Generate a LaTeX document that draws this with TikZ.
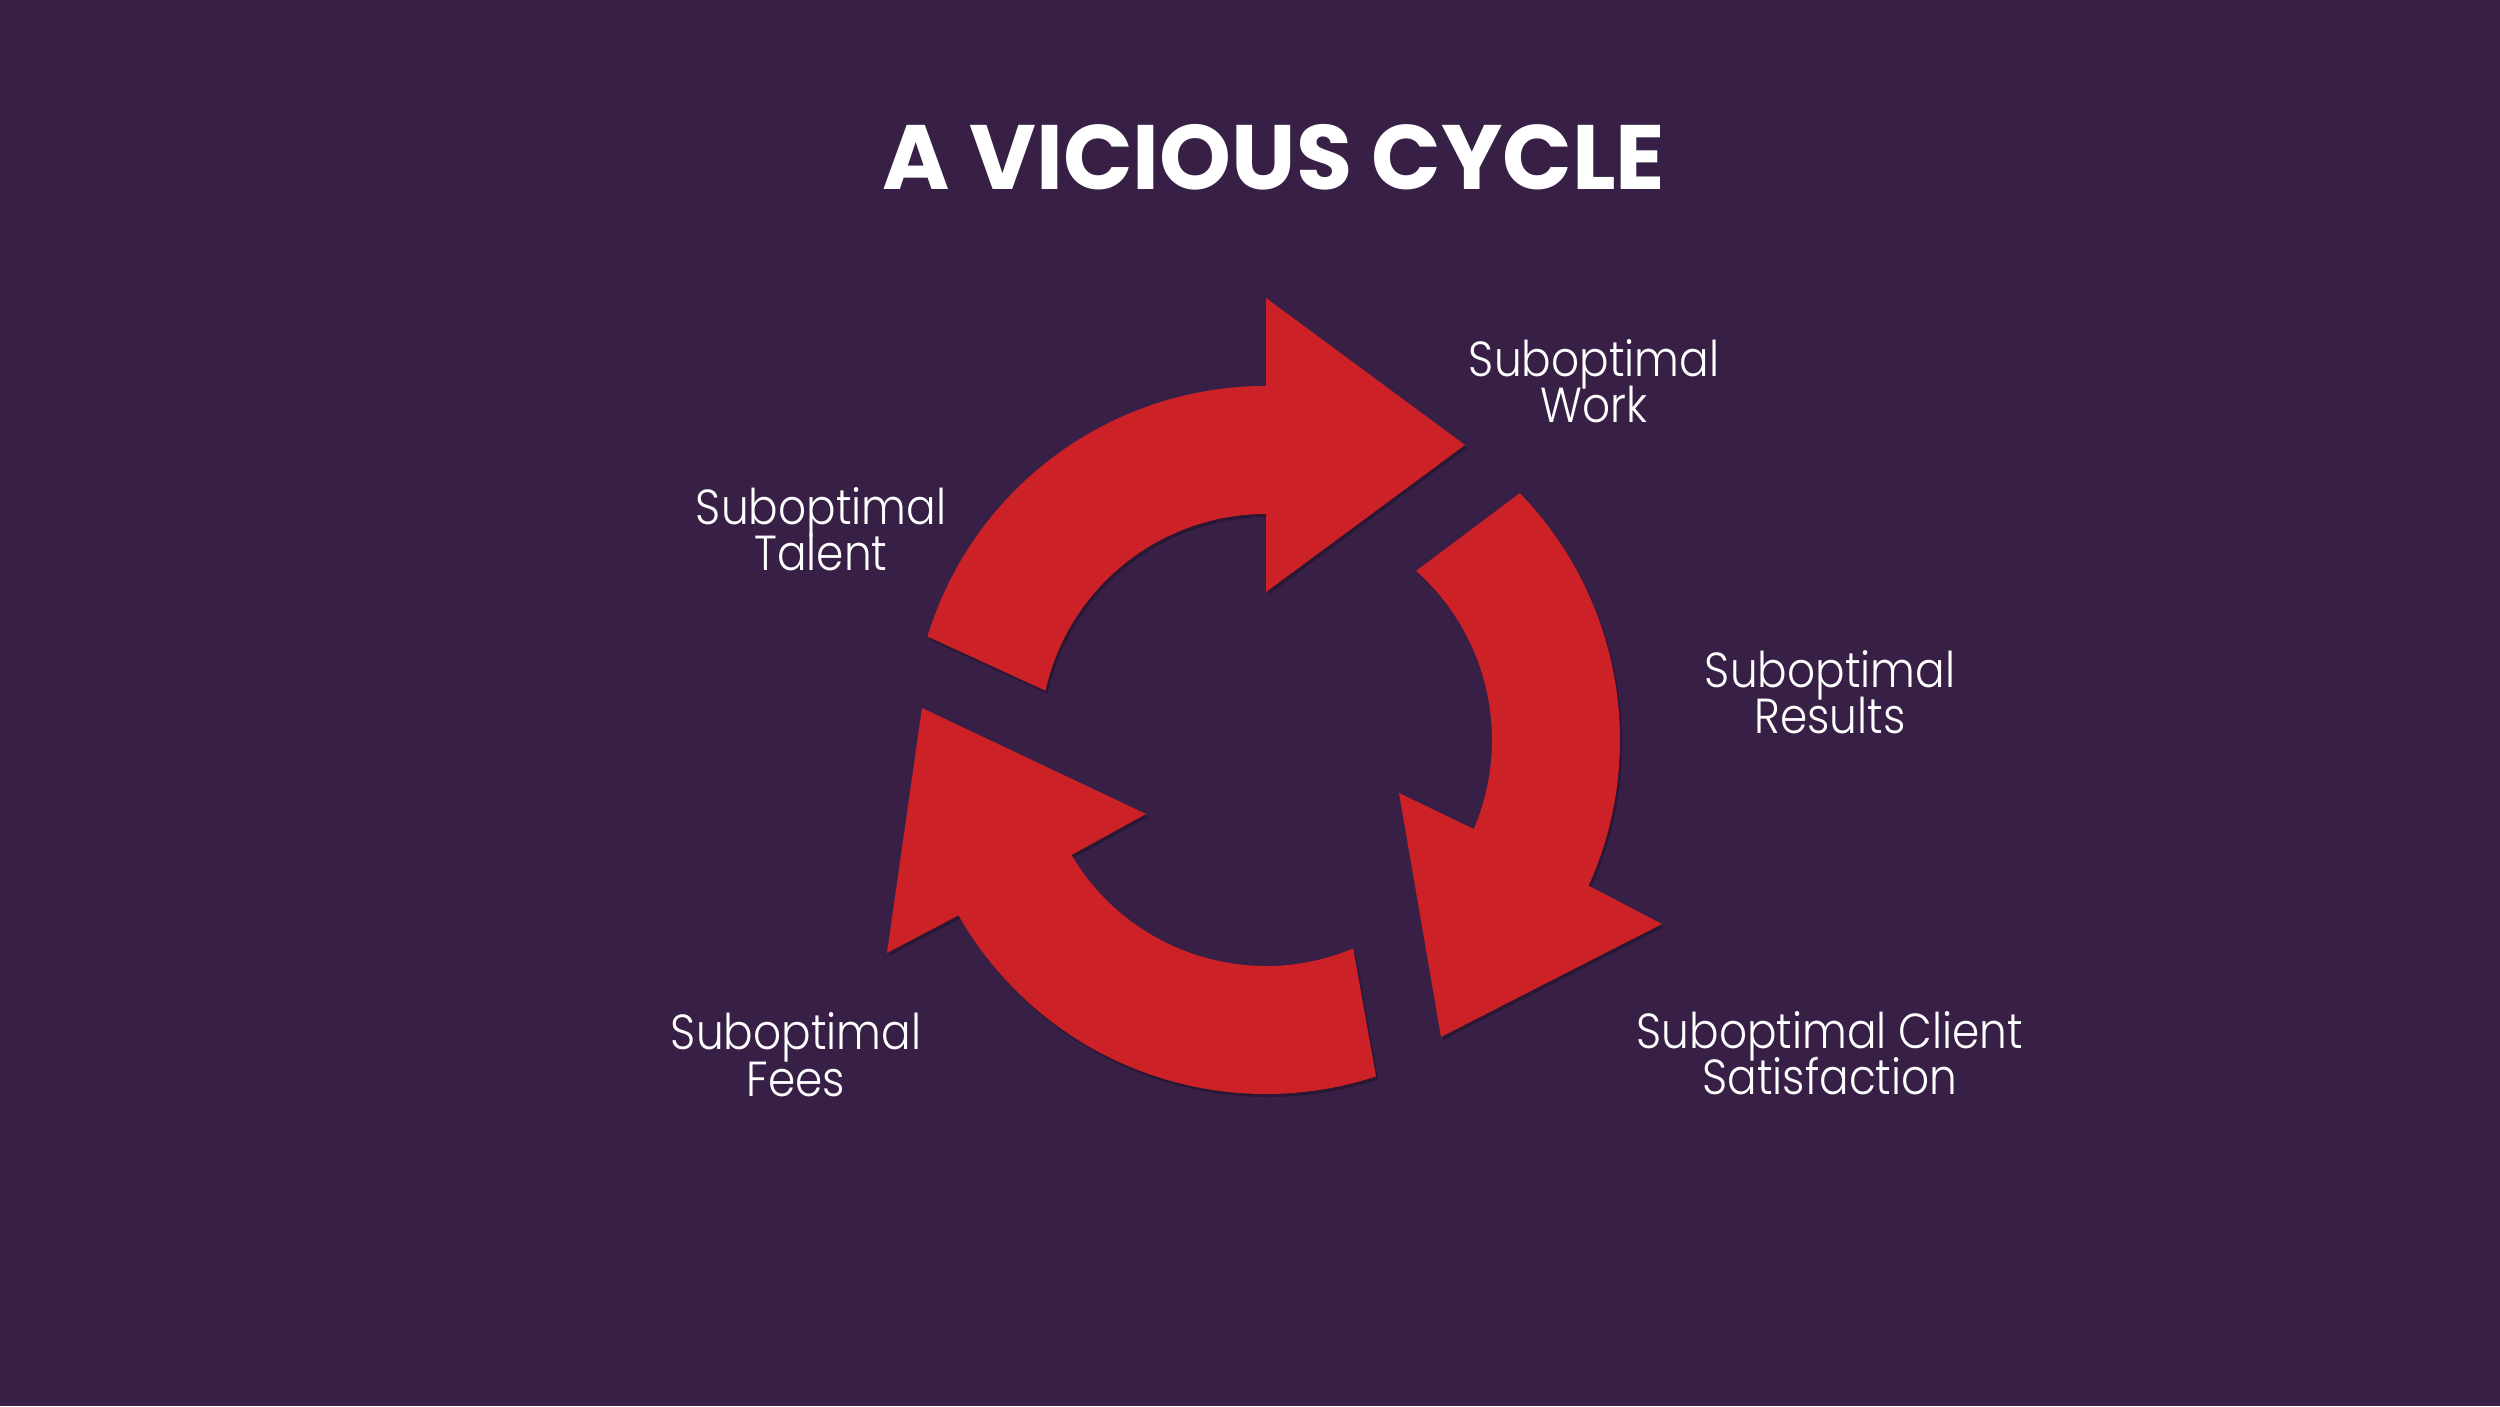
\documentclass[tikz,border=0pt]{standalone}
\usepackage{fontspec}
\IfFontExistsTF{Poppins Light}{\newfontfamily\lblfont{Poppins Light}[FakeStretch=0.89]}{\newfontfamily\lblfont{Poppins}[FakeStretch=0.89]}
\newfontfamily\ttlfont{Poppins}
\definecolor{bgpurple}{RGB}{55,31,69}
\definecolor{arrowred}{RGB}{204,34,39}
\begin{document}
\begin{tikzpicture}[x=0.01cm,y=0.01cm,
  lbl/.style={font={\lblfont\fontsize{14}{13.2}\selectfont\lineskiplimit=-50pt}, text=white, align=center, inner sep=0pt, anchor=base},
  ttl/.style={font=\ttlfont\bfseries\fontsize{26}{30}\selectfont, text=white, inner sep=0pt, anchor=base},
  arrowshape/.style={fill=arrowred, preaction={fill=black, opacity=0.25, transform canvas={shift={(2,-3)}}}}]
\fill[bgpurple] (0,0) rectangle (2500,1406);
\useasboundingbox (0,0) rectangle (2500,1406);
\coordinate (C) at (1266,666);
\begin{scope}[shift={(C)}]
  % top arrow
  \path[arrowshape] (167.4:226) -- (163:354) arc[start angle=163, end angle=90, radius=354]
    -- (90:442) -- (199,295) -- (90:148) -- (90:226)
    arc[start angle=90, end angle=167.4, radius=226] -- cycle;
  % right arrow
  \path[arrowshape] (48.4:226) -- (44.2:354) arc[start angle=44.2, end angle=-24.3, radius=354]
    -- (396,-184) -- (175,-297) -- (133,-53) -- (-23.2:226)
    arc[start angle=-23.2, end angle=48.4, radius=226] -- cycle;
  % bottom arrow
  \path[arrowshape] (-67.3:226) -- (-71.9:354) arc[start angle=-71.9, end angle=-150.3, radius=354]
    -- (-379,-213) -- (-344,32) -- (-120,-74) -- (-149.4:226)
    arc[start angle=-149.4, end angle=-67.3, radius=226] -- cycle;
\end{scope}
\node[ttl] (title) at (1274,1216) {A VICIOUS CYCLE};
\node[lbl] (talent) at (821,835) {Suboptimal\\Talent};
\node[lbl] (work) at (1594,983) {Suboptimal\\Work};
\node[lbl] (results) at (1830,672) {Suboptimal\\Results};
\node[lbl] (fees) at (796,310) {Suboptimal\\Fees};
\node[lbl] (client) at (1830,311) {Suboptimal Client\\Satisfaction};
\end{tikzpicture}
\end{document}
